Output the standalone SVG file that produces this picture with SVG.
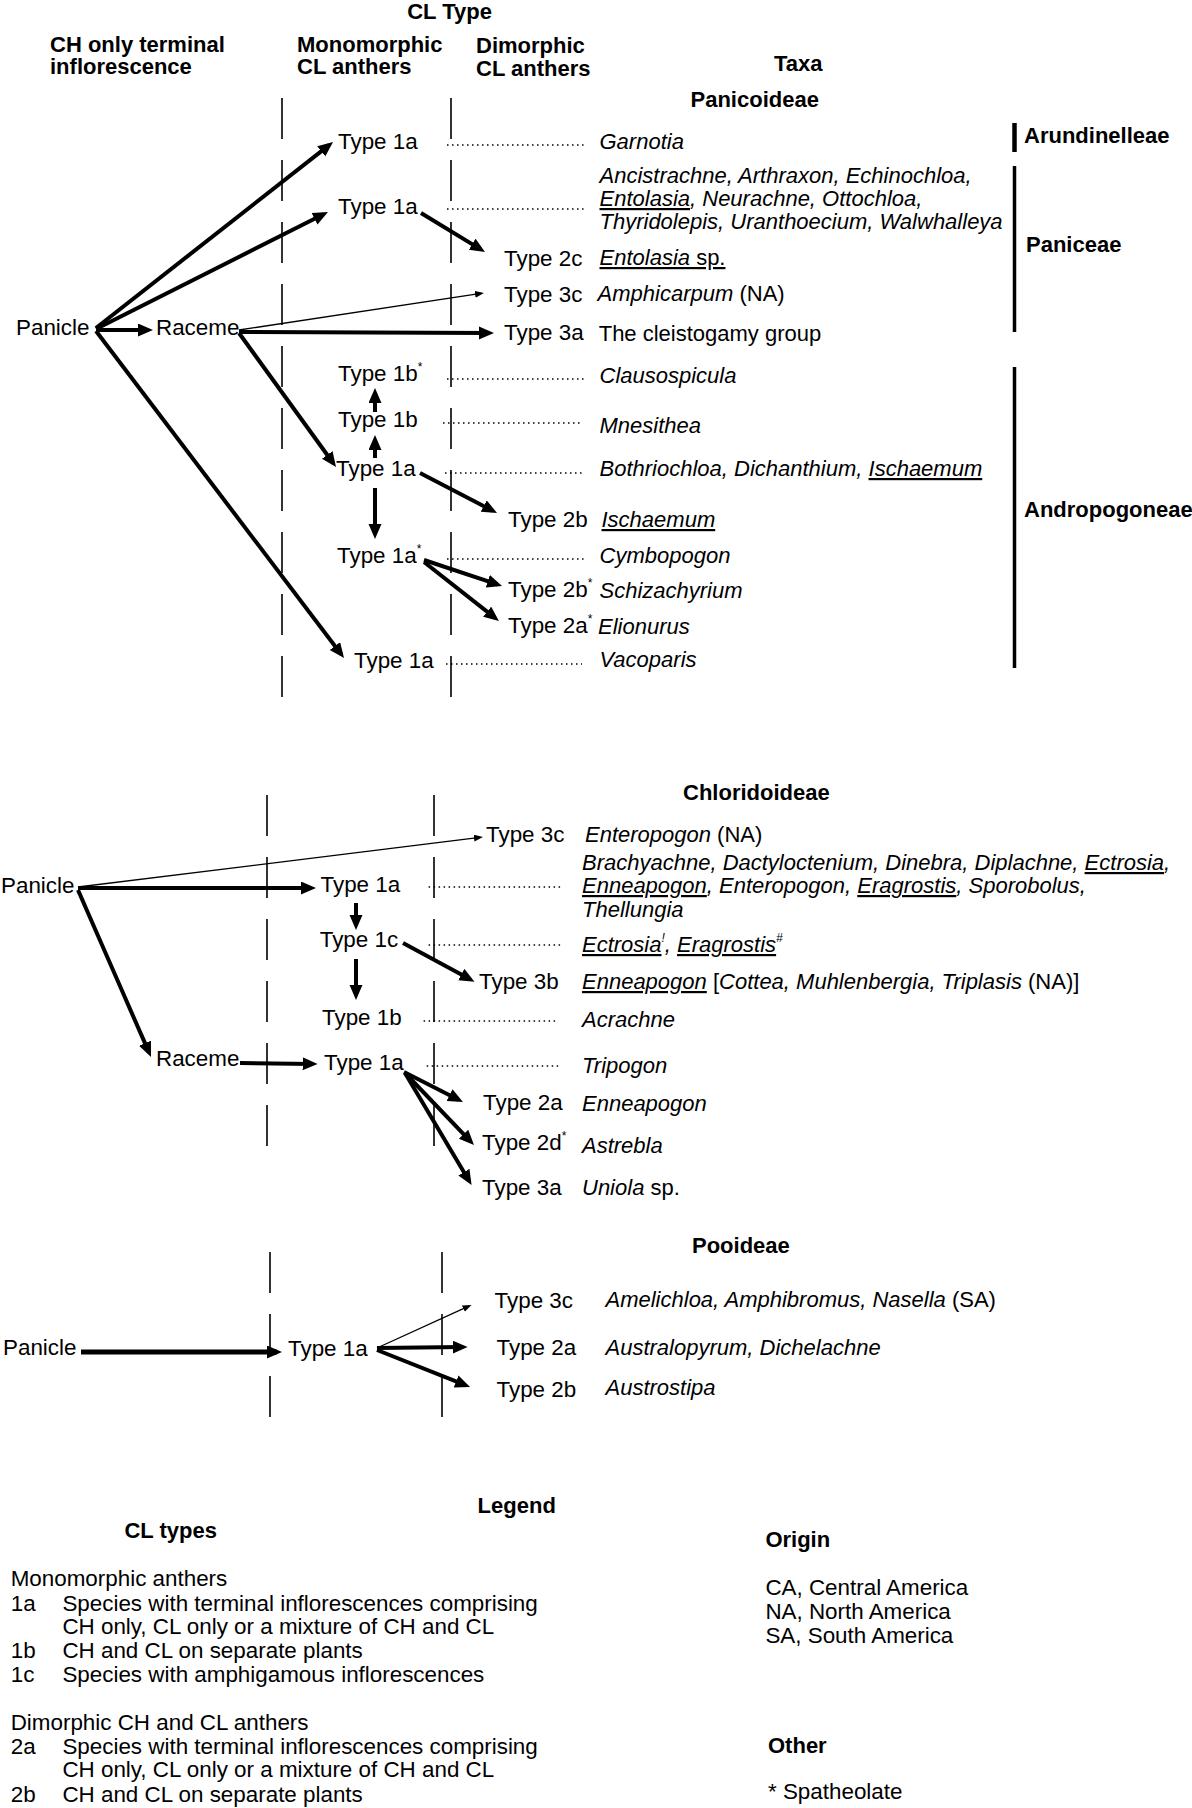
<svg xmlns="http://www.w3.org/2000/svg" width="1192" height="1808" viewBox="0 0 1192 1808">
<style>
text { font-family: "Liberation Sans", Arial, Helvetica, sans-serif; font-size: 22.4px; fill: #000; }
.b { font-weight: bold; font-size: 22px; }
.i { font-style: italic; }
.tx { font-size: 22px; }
.u { text-decoration: underline; }
.sup { font-size: 12px; }
.thick { stroke: #000; stroke-width: 4; fill: none; marker-end: url(#ah); }
.thin { stroke: #000; stroke-width: 1.3; fill: none; marker-end: url(#ahs); }
.dash { stroke: #000; stroke-width: 1.6; stroke-dasharray: 41 21; fill: none; }
.dot { stroke: #000; stroke-width: 1.3; stroke-dasharray: 1.5 3.5; fill: none; }
.bar { stroke: #000; stroke-width: 3.5; }
</style>
<defs>
<marker id="ah" markerUnits="userSpaceOnUse" markerWidth="16" markerHeight="14" refX="10" refY="6.5" orient="auto">
<path d="M0,0 L15,6.5 L0,13 z" fill="#000"/>
</marker>
<marker id="ahs" markerUnits="userSpaceOnUse" markerWidth="10" markerHeight="8" refX="6" refY="3.5" orient="auto">
<path d="M0,0 L9,3.5 L0,7 z" fill="#000"/>
</marker>
</defs>
<rect width="1192" height="1808" fill="#fff"/>

<g id="headers">
<text class="b" x="449.6" y="19" text-anchor="middle">CL Type</text>
<text class="b" x="50" y="52">CH only terminal</text>
<text class="b" x="50" y="74">inflorescence</text>
<text class="b" x="297" y="52">Monomorphic</text>
<text class="b" x="297" y="74">CL anthers</text>
<text class="b" x="476" y="53">Dimorphic</text>
<text class="b" x="476" y="76">CL anthers</text>
<text class="b" x="774" y="71">Taxa</text>
<text class="b" x="690.5" y="107">Panicoideae</text>
<text class="b" x="683" y="800">Chloridoideae</text>
<text class="b" x="692" y="1253">Pooideae</text>
</g>

<g id="columns">
<line class="dash" x1="282" y1="98" x2="282" y2="697"/>
<line class="dash" x1="451" y1="98" x2="451" y2="697"/>
<line class="dash" x1="267" y1="795" x2="267" y2="1148"/>
<line class="dash" x1="434" y1="795" x2="434" y2="1148"/>
<line class="dash" x1="270" y1="1252" x2="270" y2="1421"/>
<line class="dash" x1="442" y1="1252" x2="442" y2="1421"/>
</g>

<g id="tribes">
<line class="bar" x1="1014.5" y1="123" x2="1014.5" y2="152" style="stroke-width:4.5"/>
<text class="b" x="1024" y="143">Arundinelleae</text>
<line class="bar" x1="1014.5" y1="166" x2="1014.5" y2="332"/>
<text class="b" x="1026" y="252">Paniceae</text>
<line class="bar" x1="1014.5" y1="367" x2="1014.5" y2="668"/>
<text class="b" x="1024" y="517">Andropogoneae</text>
</g>

<g id="connectors">
<!-- Panicoideae -->
<line class="thick" x1="96" y1="328" x2="329.1" y2="145.1"/>
<line class="thick" x1="96" y1="329" x2="323.5" y2="214.3"/>
<line class="thick" x1="96" y1="330" x2="148" y2="330"/>
<line class="thick" x1="96" y1="331" x2="341" y2="654"/>
<line class="thin" x1="239" y1="330" x2="481" y2="293.4"/>
<line class="thick" x1="239" y1="332" x2="489" y2="333"/>
<line class="thick" x1="239" y1="333" x2="333.1" y2="463"/>
<line class="thick" x1="421" y1="213" x2="480.7" y2="249.4"/>
<line class="thick" x1="375" y1="412" x2="375" y2="393"/>
<line class="thick" x1="375" y1="458" x2="375" y2="440"/>
<line class="thick" x1="375" y1="488" x2="375" y2="534"/>
<line class="thick" x1="420" y1="473" x2="492.6" y2="510.7"/>
<line class="thick" x1="424" y1="560" x2="497.3" y2="584.4"/>
<line class="thick" x1="424" y1="562" x2="495" y2="617.9"/>
<line class="dot" x1="447" y1="145" x2="585" y2="145"/>
<line class="dot" x1="447" y1="209" x2="585" y2="209"/>
<line class="dot" x1="447" y1="379" x2="584" y2="379"/>
<line class="dot" x1="443" y1="423" x2="580" y2="423"/>
<line class="dot" x1="445" y1="473" x2="582" y2="473"/>
<line class="dot" x1="447" y1="559" x2="585" y2="559"/>
<line class="dot" x1="446" y1="664" x2="582" y2="664"/>
<!-- Chloridoideae -->
<line class="thin" x1="78" y1="887" x2="480" y2="837.4"/>
<line class="thick" x1="78" y1="888" x2="311" y2="888"/>
<line class="thick" x1="78" y1="890" x2="149" y2="1052.4"/>
<line class="thick" x1="356" y1="903" x2="356" y2="925"/>
<line class="thick" x1="356" y1="959" x2="356" y2="995"/>
<line class="thick" x1="403" y1="943" x2="470.1" y2="979.3"/>
<line class="thick" x1="240" y1="1063" x2="312.6" y2="1064"/>
<line class="thick" x1="404" y1="1072" x2="458.5" y2="1099.7"/>
<line class="thick" x1="405" y1="1073" x2="470.5" y2="1141.4"/>
<line class="thick" x1="405" y1="1073" x2="469" y2="1180.7"/>
<line class="dot" x1="428.6" y1="887" x2="560.6" y2="887"/>
<line class="dot" x1="428.6" y1="945" x2="560.6" y2="945"/>
<line class="dot" x1="423.6" y1="1021" x2="555.7" y2="1021"/>
<line class="dot" x1="426.7" y1="1066" x2="558.7" y2="1066"/>
<!-- Pooideae -->
<line class="thick" x1="81" y1="1352" x2="277" y2="1352" style="stroke-width:5"/>
<line class="thin" x1="377" y1="1348" x2="468.8" y2="1306.2"/>
<line class="thick" x1="377" y1="1348" x2="462.6" y2="1347"/>
<line class="thick" x1="377" y1="1350" x2="465.4" y2="1385.2"/>
</g>

<g id="panicoideae-nodes">
<g id="p-panicle"><text x="16" y="335">Panicle</text></g>
<g id="p-raceme"><text x="156" y="335">Raceme</text></g>
<g id="p-t1a-garnotia"><text x="338" y="149">Type 1a</text></g>
<g id="p-t1a-paniceae"><text x="338" y="214">Type 1a</text></g>
<g id="p-t2c"><text x="504" y="266">Type 2c</text></g>
<g id="p-t3c"><text x="504" y="302">Type 3c</text></g>
<g id="p-t3a"><text x="504" y="340">Type 3a</text></g>
<g id="p-t1b-star"><text x="338" y="381">Type 1b<tspan class="sup" dy="-10">*</tspan></text></g>
<g id="p-t1b"><text x="338" y="427">Type 1b</text></g>
<g id="p-t1a-both"><text x="336" y="476">Type 1a</text></g>
<g id="p-t2b"><text x="508" y="527">Type 2b</text></g>
<g id="p-t1a-star"><text x="337" y="563">Type 1a<tspan class="sup" dy="-10">*</tspan></text></g>
<g id="p-t2b-star"><text x="508" y="597">Type 2b<tspan class="sup" dy="-10">*</tspan></text></g>
<g id="p-t2a-star"><text x="508" y="633">Type 2a<tspan class="sup" dy="-10">*</tspan></text></g>
<g id="p-t1a-vac"><text x="354" y="668">Type 1a</text></g>
</g>

<g id="panicoideae-taxa" class="tx">
<text class="i tx" x="599.5" y="149">Garnotia</text>
<text class="i tx" x="599.5" y="183">Ancistrachne, Arthraxon, Echinochloa,</text>
<text class="i tx" x="599.5" y="206"><tspan class="u">Entolasia</tspan>, Neurachne, Ottochloa,</text>
<text class="i tx" x="599.5" y="229">Thyridolepis, Uranthoecium, Walwhalleya</text>
<text class="u tx" x="599.5" y="265"><tspan class="i">Entolasia</tspan> sp.</text>
<text class="tx" x="597.6" y="301"><tspan class="i">Amphicarpum</tspan> (NA)</text>
<text class="tx" x="598.7" y="341">The cleistogamy group</text>
<text class="i tx" x="599.5" y="383">Clausospicula</text>
<text class="i tx" x="599.5" y="433">Mnesithea</text>
<text class="i tx" x="599.5" y="476">Bothriochloa, Dichanthium, <tspan class="u">Ischaemum</tspan></text>
<text class="i u tx" x="601.5" y="527">Ischaemum</text>
<text class="i tx" x="599.5" y="563">Cymbopogon</text>
<text class="i tx" x="599.5" y="598">Schizachyrium</text>
<text class="i tx" x="598" y="634">Elionurus</text>
<text class="i tx" x="599.5" y="667">Vacoparis</text>
</g>

<g id="chloridoideae-nodes">
<g id="c-panicle"><text x="1" y="893">Panicle</text></g>
<g id="c-raceme"><text x="156" y="1066">Raceme</text></g>
<g id="c-t3c"><text x="486" y="842">Type 3c</text></g>
<g id="c-t1a"><text x="320.5" y="892">Type 1a</text></g>
<g id="c-t1c"><text x="319.7" y="947">Type 1c</text></g>
<g id="c-t3b"><text x="479" y="989">Type 3b</text></g>
<g id="c-t1b"><text x="322" y="1025">Type 1b</text></g>
<g id="c-t1a-trip"><text x="324" y="1070">Type 1a</text></g>
<g id="c-t2a"><text x="483" y="1110">Type 2a</text></g>
<g id="c-t2d-star"><text x="482" y="1150">Type 2d<tspan class="sup" dy="-10">*</tspan></text></g>
<g id="c-t3a"><text x="482" y="1195">Type 3a</text></g>
</g>

<g id="chloridoideae-taxa">
<text class="tx" x="585" y="842"><tspan class="i">Enteropogon</tspan> (NA)</text>
<text class="i tx" x="582" y="870">Brachyachne, Dactyloctenium, Dinebra, Diplachne, <tspan class="u">Ectrosia</tspan>,</text>
<text class="i tx" x="582" y="893"><tspan class="u">Enneapogon</tspan>, Enteropogon, <tspan class="u">Eragrostis</tspan>, Sporobolus,</text>
<text class="i tx" x="582" y="917">Thellungia</text>
<text class="i tx" x="582" y="952"><tspan class="u">Ectrosia</tspan><tspan class="sup" dy="-10">!</tspan><tspan dy="10">, </tspan><tspan class="u">Eragrostis</tspan><tspan class="sup" dy="-10">#</tspan></text>
<text class="tx" x="582" y="989"><tspan class="i u">Enneapogon</tspan> [<tspan class="i">Cottea, Muhlenbergia, Triplasis</tspan> (NA)]</text>
<text class="i tx" x="582" y="1027">Acrachne</text>
<text class="i tx" x="582" y="1073">Tripogon</text>
<text class="i tx" x="582" y="1111">Enneapogon</text>
<text class="i tx" x="582" y="1153">Astrebla</text>
<text class="tx" x="582" y="1195"><tspan class="i">Uniola</tspan> sp.</text>
</g>

<g id="pooideae-nodes">
<g id="o-panicle"><text x="3" y="1355">Panicle</text></g>
<g id="o-t1a"><text x="288" y="1356">Type 1a</text></g>
<g id="o-t3c"><text x="494.6" y="1308">Type 3c</text></g>
<g id="o-t2a"><text x="496.5" y="1355">Type 2a</text></g>
<g id="o-t2b"><text x="496.5" y="1397">Type 2b</text></g>
</g>

<g id="pooideae-taxa">
<text class="tx" x="605.5" y="1307"><tspan class="i">Amelichloa, Amphibromus, Nasella</tspan> (SA)</text>
<text class="i tx" x="605.5" y="1355">Australopyrum, Dichelachne</text>
<text class="i tx" x="605.5" y="1395">Austrostipa</text>
</g>

<g id="legend">
<text class="b" x="477.6" y="1513">Legend</text>
<text class="b" x="124.4" y="1538">CL types</text>
<text x="10.7" y="1586">Monomorphic anthers</text>
<text x="10.7" y="1611">1a</text>
<text x="62.4" y="1611">Species with terminal inflorescences comprising</text>
<text x="62.4" y="1634">CH only, CL only or a mixture of CH and CL</text>
<text x="10.7" y="1658">1b</text>
<text x="62.4" y="1658">CH and CL on separate plants</text>
<text x="10.7" y="1682">1c</text>
<text x="62.4" y="1682">Species with amphigamous inflorescences</text>
<text x="10.7" y="1730">Dimorphic CH and CL anthers</text>
<text x="10.7" y="1754">2a</text>
<text x="62.4" y="1754">Species with terminal inflorescences comprising</text>
<text x="62.4" y="1777">CH only, CL only or a mixture of CH and CL</text>
<text x="10.7" y="1802">2b</text>
<text x="62.4" y="1802">CH and CL on separate plants</text>
<text class="b" x="765.4" y="1547">Origin</text>
<text x="765.4" y="1595">CA, Central America</text>
<text x="765.4" y="1619">NA, North America</text>
<text x="765.4" y="1643">SA, South America</text>
<text class="b" x="768" y="1753">Other</text>
<text x="768" y="1799">* Spatheolate</text>
</g>
</svg>
